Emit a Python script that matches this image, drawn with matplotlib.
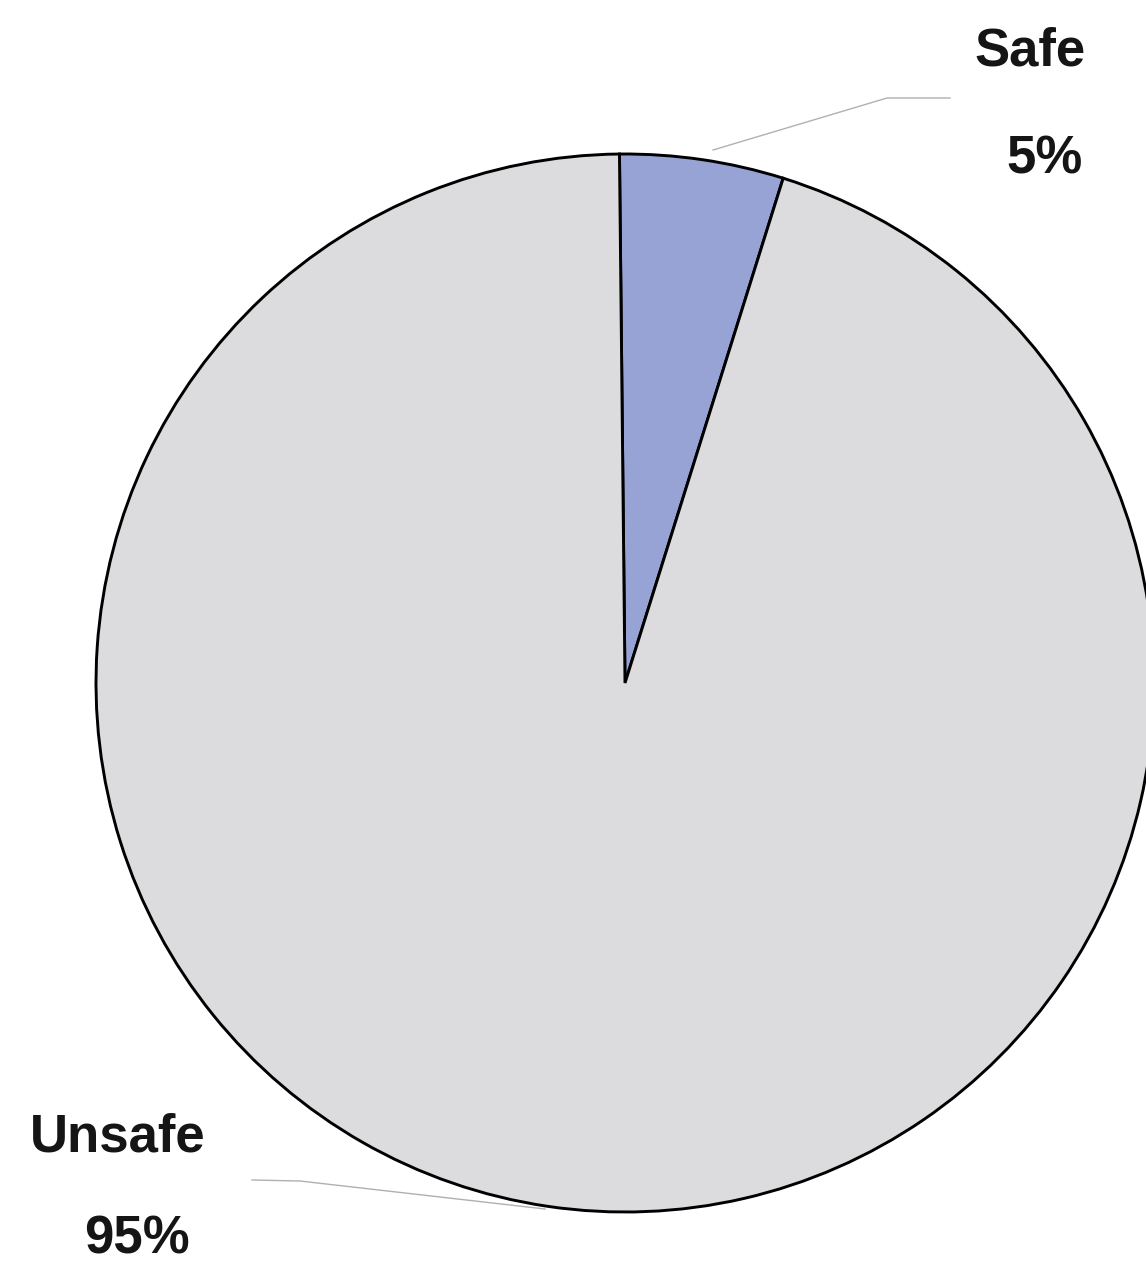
import matplotlib
matplotlib.use("Agg")
import matplotlib.pyplot as plt

labels = ["Safe", "Unsafe"]
shares = [5, 95]
colors = ["#97A3D5", "#DCDCDE"]

W, H = 1146, 1265
fig = plt.figure(figsize=(W / 100, H / 100), dpi=100)
ax = fig.add_axes([0, 0, 1, 1])

cx, cy, r = 625, H - 683, 529
ax.pie(shares, colors=colors, startangle=90.6, counterclock=False,
       center=(cx, cy), radius=r, frame=True,
       wedgeprops=dict(edgecolor="black", linewidth=2.1))
ax.set_xlim(0, W)
ax.set_ylim(0, H)
ax.set_aspect("equal")
ax.axis("off")

font = dict(family="Liberation Sans", weight="bold", fontsize=38,
            color="#151515", ha="center", va="center")

# Safe label with leader line
ax.plot([713, 887, 950], [H - 150, H - 98, H - 98], color="#b0b0b0", lw=1.0)
ax.text(1030, H - 52, labels[0], **font)
ax.text(1045, H - 160, f"{shares[0]}%", **font)

# Unsafe label with leader line
ax.plot([545, 300, 252], [H - 1209, H - 1181, H - 1180], color="#b0b0b0", lw=1.0)
ax.text(118, H - 1137, labels[1], **font)
ax.text(137, H - 1240, f"{shares[1]}%", **font)

fig.savefig("out.png", dpi=100, facecolor="white")
